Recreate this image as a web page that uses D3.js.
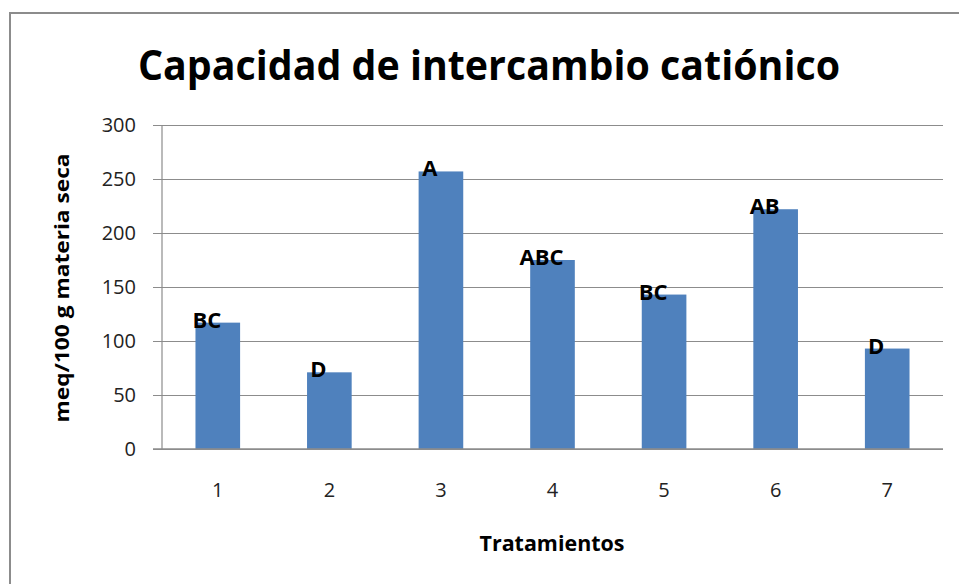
<!DOCTYPE html>
<html>
<head>
<meta charset="utf-8">
<script src="https://cdnjs.cloudflare.com/ajax/libs/d3/7.8.5/d3.min.js"></script>
<style>
  body { margin: 0; background: #fff; }
  svg { display: block; font-family: "Open Sans", sans-serif; }
</style>
</head>
<body>
<svg id="chart" width="959" height="584"></svg>
<script>
// data
var tratamientos = ["1", "2", "3", "4", "5", "6", "7"];
var cic = [117, 71, 257, 175, 143, 222, 93];
var letras = ["BC", "D", "A", "ABC", "BC", "AB", "D"];
var yTicks = [0, 50, 100, 150, 200, 250, 300];

var data = tratamientos.map(function (t, i) {
    return { t: t, v: cic[i], l: letras[i] };
});

var svg = d3.select("#chart"),
    margin = { top: 125, right: 16, bottom: 135, left: 162 },
    width = +svg.attr("width") - margin.left - margin.right,
    height = +svg.attr("height") - margin.top - margin.bottom;

// chart frame (runs off the right and bottom of the picture)
svg.append("rect")
    .attr("x", 10)
    .attr("y", 13)
    .attr("width", 1000)
    .attr("height", 700)
    .attr("fill", "#fff")
    .attr("stroke", "#8c8c8c")
    .attr("stroke-width", 2);

var g = svg.append("g").attr("transform", "translate(" + margin.left + "," + margin.top + ")");

var x = d3.scaleBand()
    .domain(tratamientos)
    .range([0, width])
    .paddingInner(0.6)
    .paddingOuter(0.3);

var y = d3.scaleLinear()
    .domain([0, 300])
    .range([height, 0]);

// gridlines + left ticks
var yAxis = g.append("g")
    .call(d3.axisLeft(y).tickValues(yTicks).tickSize(-width).tickPadding(26).tickSizeOuter(0));
yAxis.select(".domain").remove();
yAxis.selectAll(".tick line")
    .attr("x1", -9)
    .attr("stroke", "#8c8c8c")
    .attr("stroke-width", 1.2);
yAxis.selectAll(".tick text")
    .attr("font-size", 20)
    .attr("font-family", "Open Sans, sans-serif")
    .attr("fill", "#222");

// vertical axis line
g.append("line")
    .attr("x1", 0).attr("x2", 0)
    .attr("y1", 0).attr("y2", height)
    .attr("stroke", "#8c8c8c")
    .attr("stroke-width", 1.2);

g.selectAll(".bar")
    .data(data)
    .enter().append("rect")
    .attr("class", "bar")
    .attr("x", function (d) { return x(d.t); })
    .attr("y", function (d) { return y(d.v); })
    .attr("width", x.bandwidth())
    .attr("height", function (d) { return height - y(d.v); })
    .attr("fill", "#4f81bd");

// x axis
var xAxis = g.append("g")
    .attr("transform", "translate(0," + height + ")")
    .call(d3.axisBottom(x).tickSize(0).tickPadding(34));
xAxis.select(".domain")
    .attr("d", "M-9,0H" + width)
    .attr("stroke", "#8c8c8c")
    .attr("stroke-width", 1.6);
xAxis.selectAll(".tick text")
    .attr("font-size", 20)
    .attr("font-family", "Open Sans, sans-serif")
    .attr("fill", "#222");

// significance letters
g.selectAll(".letra")
    .data(data)
    .enter().append("text")
    .attr("class", "letra")
    .attr("x", function (d) { return x(d.t) + x.bandwidth() / 2 - 11; })
    .attr("y", function (d) { return y(d.v) + 5; })
    .attr("text-anchor", "middle")
    .attr("font-size", 22)
    .attr("font-weight", "bold")
    .attr("fill", "#000")
    .text(function (d) { return d.l; });

// title
svg.append("text")
    .attr("x", 489)
    .attr("y", 80)
    .attr("text-anchor", "middle")
    .attr("font-size", 42)
    .attr("font-weight", "bold")
    .attr("textLength", 702)
    .attr("lengthAdjust", "spacingAndGlyphs")
    .text("Capacidad de intercambio catiónico");

// axis titles
svg.append("text")
    .attr("transform", "translate(69,288) rotate(-90)")
    .attr("text-anchor", "middle")
    .attr("font-size", 19)
    .attr("font-weight", "bold")
    .attr("textLength", 269)
    .attr("lengthAdjust", "spacingAndGlyphs")
    .text("meq/100 g materia seca");

svg.append("text")
    .attr("x", 552)
    .attr("y", 551)
    .attr("text-anchor", "middle")
    .attr("font-size", 21)
    .attr("font-weight", "bold")
    .attr("textLength", 145)
    .attr("lengthAdjust", "spacingAndGlyphs")
    .text("Tratamientos");
</script>
</body>
</html>
